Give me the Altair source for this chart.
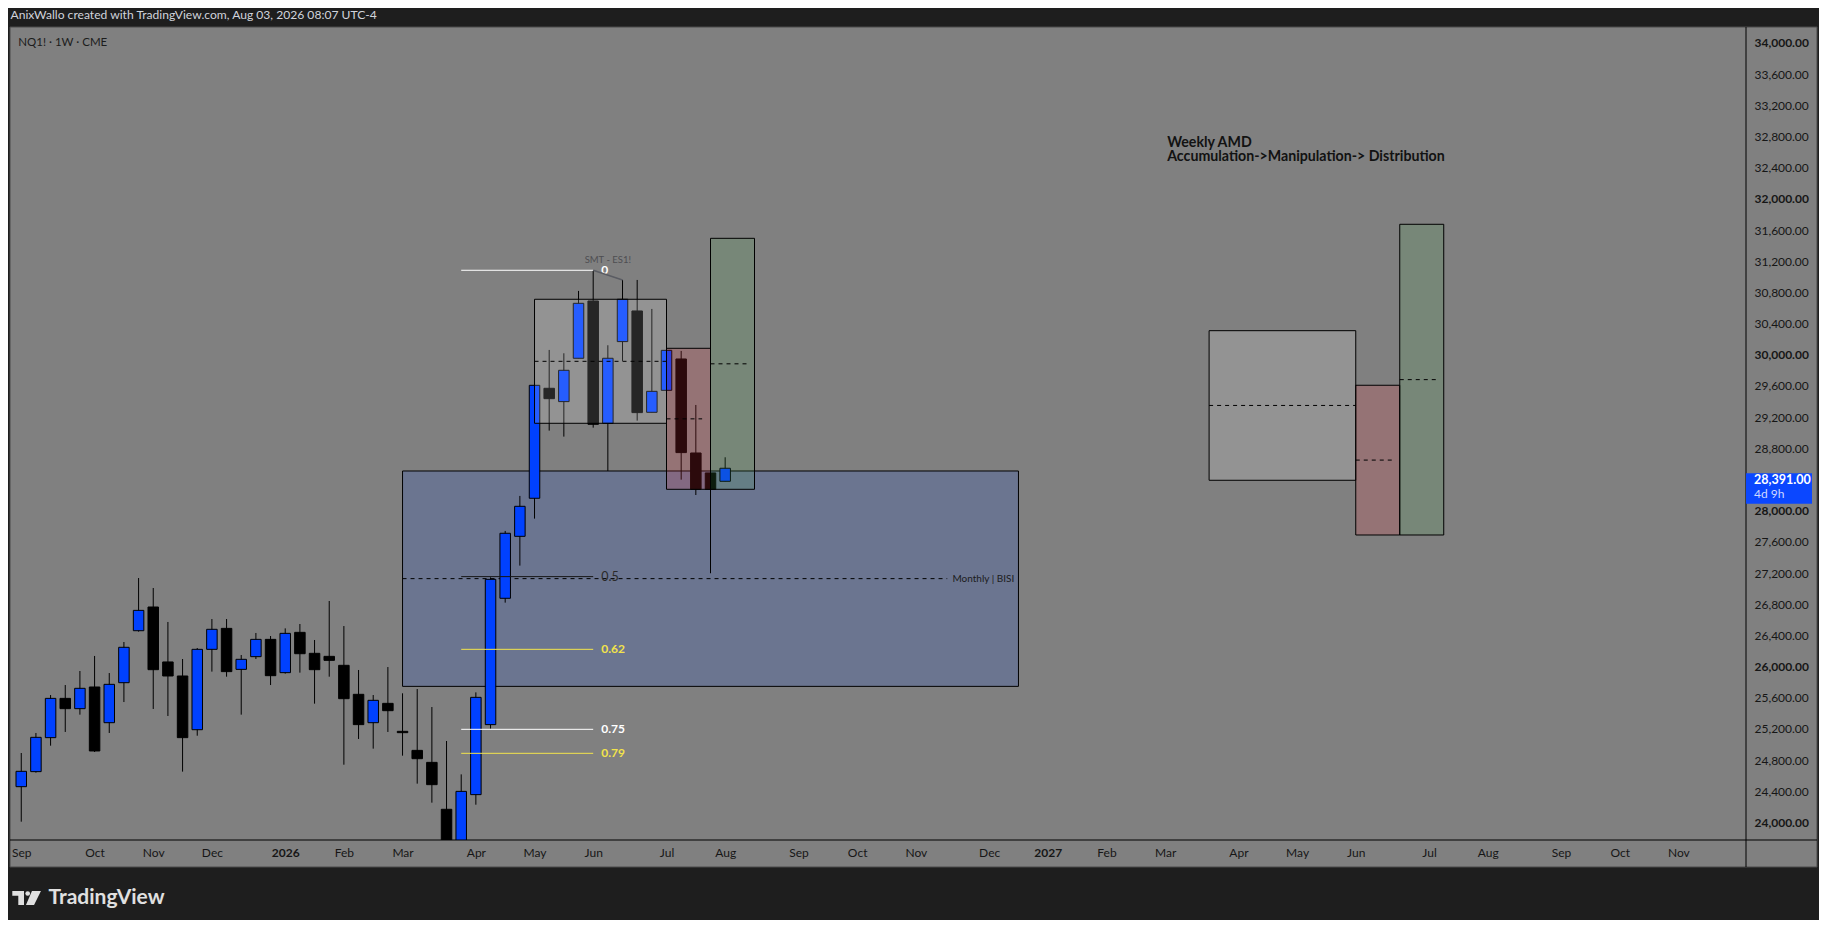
import altair as alt
import pandas as pd

# ---------------- data ----------------
ORIGIN = "2025-09-01"  # first weekly bar on the chart

candle_dates = [d.strftime("%Y-%m-%d") for d in pd.date_range(ORIGIN, periods=49, freq="7D")]
opens = [24459, 24652, 25088, 25592, 25460, 25738, 25280, 25793, 26460, 26764,
         26059, 25879, 25190, 26221, 26490, 25964, 26127, 26349, 25922, 26439,
         26170, 26131, 26016, 25644, 25280, 25528, 25169, 24925, 24771, 24169,
         23500, 24357, 25255, 26876, 27671, 28159, 29570, 29399, 29955, 30690,
         29121, 30169, 30562, 29262, 29544, 29946, 28740, 28484, 28377]
highs = [24891, 25148, 25635, 25763, 25943, 26136, 25917, 26315, 27136, 27008,
         26572, 26097, 26238, 26610, 26610, 26148, 26431, 26392, 26490, 26546,
         26341, 26841, 26520, 25956, 25635, 25994, 25657, 25712, 25481, 25045,
         24617, 25669, 27145, 27740, 28189, 29640, 30062, 30019, 30819, 31084,
         30122, 30960, 30960, 30588, 30083, 30049, 29356, 28540, 28685]
lows = [24010, 24639, 24985, 25161, 25383, 24904, 25148, 25545, 26448, 25456,
        25366, 24652, 25113, 25935, 25870, 25383, 26097, 25763, 25909, 25922,
        25524, 25870, 24741, 25071, 24947, 25161, 24857, 24498, 24254, 23300,
        23224, 24228, 25203, 26820, 27295, 27898, 29027, 28950, 29955, 29065,
        28509, 29921, 29155, 29262, 29500, 28398, 28201, 27197, 28377]
closes = [24656, 25092, 25592, 25460, 25721, 24917, 25772, 26247, 26721, 25960,
          25879, 25088, 26221, 26478, 25935, 26093, 26349, 25883, 26426, 26165,
          25960, 26080, 25588, 25255, 25567, 25434, 25152, 24818, 24485, 23500,
          24399, 25605, 27119, 27710, 28056, 29608, 29437, 29801, 30660, 29108,
          29955, 30712, 29258, 29531, 30057, 28745, 28274, 28274, 28544]

# Monthly BISI zone (drawn under the candles)
bisi_start, bisi_end = "2026-03-02", "2026-12-21"
bisi_top, bisi_bottom = 28509, 25746
bisi_mid, bisi_mid_end = 27128, "2026-11-17"
bisi_label, bisi_label_date = "Monthly | BISI", "2026-12-19"

# AMD boxes (drawn over the candles)
box_start = ["2026-05-04", "2026-07-06", "2026-07-27", "2027-03-22", "2027-05-31", "2027-06-21"]
box_end = ["2026-07-06", "2026-07-27", "2026-08-17", "2027-05-31", "2027-06-21", "2027-07-12"]
box_top = [30712, 30083, 31494, 30309, 29609, 31674]
box_bottom = [29121, 28274, 28274, 28390, 27688, 27688]
box_fill = ["#ffffff", "#f23645", "#4caf50", "#ffffff", "#f23645", "#4caf50"]
box_alpha = [0.15, 0.18, 0.16, 0.15, 0.18, 0.16]
mid_start = ["2026-05-04", "2026-07-06", "2026-07-27", "2027-03-22", "2027-05-31", "2027-06-21"]
mid_end = ["2026-07-06", "2026-07-23", "2026-08-14", "2027-05-31", "2027-06-18", "2027-07-09"]
mid_price = [29916, 29178, 29884, 29350, 28649, 29681]

# Fibonacci levels
fib_start, fib_end = "2026-03-30", "2026-06-01"
fib_labels = ["0", "0.5", "0.62", "0.75", "0.79"]
fib_prices = [31084, 27154, 26221, 25195, 24887]
fib_colors = ["#ffffff", "#161616", "#f2e34b", "#ffffff", "#f2e34b"]

# SMT divergence
smt_dates = ["2026-06-01", "2026-06-15"]
smt_prices = [31084, 30960]
smt_label, smt_label_date, smt_label_price = "SMT - ES1!", "2026-06-08", 31220

# AMD caption
amd_lines = ["Weekly AMD", "Accumulation->Manipulation-> Distribution"]
amd_prices = [32713, 32534]
amd_date = "2027-03-02"

# last price
last_price, last_text, last_countdown = 28391, "28,391.00", "4d 9h"

# x-axis ticks (first weekly bar of each month)
tick_dates = ["2025-09-01", "2025-10-06", "2025-11-03", "2025-12-01", "2026-01-05", "2026-02-02",
              "2026-03-02", "2026-04-06", "2026-05-04", "2026-06-01", "2026-07-06", "2026-08-03",
              "2026-09-07", "2026-10-05", "2026-11-02", "2026-12-07", "2027-01-04", "2027-02-01",
              "2027-03-01", "2027-04-05", "2027-05-03", "2027-05-31", "2027-07-05", "2027-08-02",
              "2027-09-06", "2027-10-04", "2027-11-01"]
tick_labels = ["Sep", "Oct", "Nov", "Dec", "2026", "Feb", "Mar", "Apr", "May", "Jun", "Jul", "Aug",
               "Sep", "Oct", "Nov", "Dec", "2027", "Feb", "Mar", "Apr", "May", "Jun", "Jul", "Aug",
               "Sep", "Oct", "Nov"]
# 28,400 is hidden behind the last-price tag
price_ticks = [24000, 24400, 24800, 25200, 25600, 26000, 26400, 26800, 27200, 27600, 28000,
               28800, 29200, 29600, 30000, 30400, 30800, 31200, 31600, 32000, 32400, 32800,
               33200, 33600, 34000]

header_text = "AnixWallo created with TradingView.com, Aug 03, 2026 08:07 UTC-4"
symbol_text = "NQ1! · 1W · CME"
brand_text = "TradingView"

# ---------------- helpers ----------------
def wk(d):
    return (pd.Timestamp(d) - pd.Timestamp(ORIGIN)).days / 7.0

FONT = "Lato"
W, H = 1736, 813
XS = alt.Scale(domain=[-0.427, 117.27], nice=False, zero=False)
YS = alt.Scale(domain=[23775, 34205], nice=False, zero=False)

tick_weeks = [int(wk(d)) for d in tick_dates]
year_weeks = [w for w, l in zip(tick_weeks, tick_labels) if l.isdigit()]
label_expr = "[" + ",".join("'%s'" % l for l in tick_labels) + "][indexof([" + \
    ",".join(str(w) for w in tick_weeks) + "], datum.value)]"

x_axis = alt.Axis(values=tick_weeks, labelExpr=label_expr, title=None, ticks=False, domain=False,
                  grid=False, labelPadding=7, labelFontSize=12, labelColor="#161616", labelFont=FONT,
                  labelOverlap=False, labelFlush=False, zindex=1,
                  labelFontWeight={"condition": {"test": "indexof([%s], datum.value) >= 0" %
                                                 ",".join(str(w) for w in year_weeks),
                                                 "value": "bold"}, "value": "normal"})
y_axis = alt.Axis(values=price_ticks, format=",.2f", orient="right", title=None, ticks=False,
                  domain=False, grid=False, labelPadding=8, labelFontSize=12, labelColor="#161616",
                  labelFont=FONT, labelOverlap=False, labelFlush=False, zindex=1,
                  labelFontWeight={"condition": {"test": "datum.value % 2000 === 0", "value": "bold"},
                                   "value": "normal"})


def X(f):
    return alt.X(f"{f}:Q", scale=XS, axis=x_axis)


def Y(f):
    return alt.Y(f"{f}:Q", scale=YS, axis=y_axis)


one = pd.DataFrame({"k": [0]})

candles = pd.DataFrame({"w": [wk(d) for d in candle_dates], "open": opens, "high": highs,
                        "low": lows, "close": closes})
candles["color"] = ["#0041ff" if c >= o else "#000000" for o, c in zip(opens, closes)]

bisi = pd.DataFrame({"s": [wk(bisi_start)], "e": [wk(bisi_end)], "t": [bisi_top], "b": [bisi_bottom]})
bisi_mid_df = pd.DataFrame({"s": [wk(bisi_start)], "e": [wk(bisi_mid_end)], "p": [bisi_mid]})
bisi_lab = pd.DataFrame({"w": [wk(bisi_label_date)], "p": [bisi_mid], "t": [bisi_label]})

boxes = pd.DataFrame({"s": [wk(d) for d in box_start], "e": [wk(d) for d in box_end],
                      "t": box_top, "b": box_bottom, "fill": box_fill, "op": box_alpha})
mids = pd.DataFrame({"s": [wk(d) for d in mid_start], "e": [wk(d) for d in mid_end], "p": mid_price})
fibs = pd.DataFrame({"s": [wk(fib_start)] * len(fib_labels), "e": [wk(fib_end)] * len(fib_labels),
                     "p": fib_prices, "c": fib_colors, "lab": fib_labels})
smt = pd.DataFrame({"s": [wk(smt_dates[0])], "e": [wk(smt_dates[1])],
                    "p": [smt_prices[0]], "p2": [smt_prices[1]]})
smt_lab = pd.DataFrame({"w": [wk(smt_label_date)], "p": [smt_label_price], "t": [smt_label]})
amd = pd.DataFrame({"w": [wk(amd_date)] * 2, "p": amd_prices, "t": amd_lines})
last = pd.DataFrame({"p": [last_price], "t": [last_text], "t2": [last_countdown]})

# ---------------- layers ----------------
panel = alt.Chart(one).mark_rect(fill="#808080", stroke="#4a4a4a", strokeWidth=1).encode(
    x=alt.value(0), x2=alt.value(1807), y=alt.value(0), y2=alt.value(840))
vline = alt.Chart(one).mark_rule(color="#000000", strokeWidth=1).encode(
    x=alt.value(W), y=alt.value(0), y2=alt.value(840))
hline = alt.Chart(one).mark_rule(color="#000000", strokeWidth=1).encode(
    x=alt.value(0), x2=alt.value(1807), y=alt.value(H))

bisi_rect = alt.Chart(bisi).mark_rect(fill="#6b7590", stroke="#000000", strokeWidth=1, clip=True).encode(
    x=X("s"), x2=alt.X2("e"), y=Y("t"), y2=alt.Y2("b"))
bisi_line = alt.Chart(bisi_mid_df).mark_rule(color="#000000", strokeDash=[4, 4], strokeWidth=1).encode(
    x=X("s"), x2=alt.X2("e"), y=Y("p"))
bisi_text = alt.Chart(bisi_lab).mark_text(align="right", baseline="middle", fontSize=10, color="#1c1c1c",
                                           font=FONT).encode(x=X("w"), y=Y("p"), text="t:N")

wicks = alt.Chart(candles).mark_rule(color="#000000", strokeWidth=1, clip=True).encode(
    x=X("w"), y=Y("low"), y2=alt.Y2("high"))
bodies = alt.Chart(candles).mark_bar(size=10.5, stroke="#000000", strokeWidth=1, clip=True).encode(
    x=X("w"), y=Y("open"), y2=alt.Y2("close"), fill=alt.Fill("color:N", scale=None))

box_rects = alt.Chart(boxes).mark_rect(stroke="#000000", strokeWidth=1).encode(
    x=X("s"), x2=alt.X2("e"), y=Y("t"), y2=alt.Y2("b"),
    fill=alt.Fill("fill:N", scale=None), fillOpacity=alt.FillOpacity("op:Q", scale=None))
mid_lines = alt.Chart(mids).mark_rule(color="#000000", strokeDash=[4, 4], strokeWidth=1).encode(
    x=X("s"), x2=alt.X2("e"), y=Y("p"))

fib_lines = alt.Chart(fibs).mark_rule(strokeWidth=1).encode(
    x=X("s"), x2=alt.X2("e"), y=Y("p"), color=alt.Color("c:N", scale=None))
fib_text_bold = alt.Chart(fibs).transform_filter("datum.lab != '0.5'").mark_text(
    align="left", baseline="middle", dx=8, fontSize=12, fontWeight="bold", font=FONT).encode(
    x=X("e"), y=Y("p"), text="lab:N", color=alt.Color("c:N", scale=None))
fib_text_norm = alt.Chart(fibs).transform_filter("datum.lab == '0.5'").mark_text(
    align="left", baseline="middle", dx=8, fontSize=12.5, color="#2a2a2a", font=FONT).encode(
    x=X("e"), y=Y("p"), text="lab:N")

smt_line = alt.Chart(smt).mark_rule(color="#5a5c63", strokeWidth=1.5).encode(
    x=X("s"), x2=alt.X2("e"), y=Y("p"), y2=alt.Y2("p2"))
smt_text = alt.Chart(smt_lab).mark_text(align="center", baseline="middle", fontSize=9.5,
                                         color="#4e4e52", font=FONT).encode(
    x=X("w"), y=Y("p"), text="t:N")

amd_text = alt.Chart(amd).mark_text(align="left", baseline="middle", fontSize=14.2, fontWeight="bold",
                                     color="#121212", font=FONT).encode(x=X("w"), y=Y("p"), text="t:N")

last_box = alt.Chart(last).mark_rect(fill="#0b47ff", yOffset=-7, y2Offset=23.5).encode(
    x=alt.value(W), x2=alt.value(1802), y=Y("p"), y2=alt.Y2("p"))
last_t1 = alt.Chart(last).mark_text(align="left", baseline="middle", fontSize=12.5, fontWeight="bold",
                                     color="#ffffff", font=FONT).encode(
    x=alt.value(1744), y=Y("p"), text="t:N")
last_t2 = alt.Chart(last).mark_text(align="left", baseline="middle", fontSize=12, dy=14,
                                     color="#cfd8ff", font=FONT).encode(
    x=alt.value(1744), y=Y("p"), text="t2:N")

header = alt.Chart(pd.DataFrame({"t": [header_text]})).mark_text(
    align="left", baseline="middle", fontSize=12.1, color="#d1d4dc", font=FONT).encode(
    x=alt.value(0.5), y=alt.value(-12), text="t:N")
symbol = alt.Chart(pd.DataFrame({"t": [symbol_text]})).mark_text(
    align="left", baseline="middle", fontSize=11.5, color="#1c1c1c", font=FONT).encode(
    x=alt.value(8.3), y=alt.value(15.7), text="t:N")
brand = alt.Chart(pd.DataFrame({"t": [brand_text]})).mark_text(
    align="left", baseline="middle", fontSize=21, fontWeight="bold", color="#e0e0e0", font=FONT).encode(
    x=alt.value(38.5), y=alt.value(870.5), text="t:N")
logo_path = ("M -0.96 -0.47 L -0.18 -0.47 L -0.18 0.47 L -0.56 0.47 L -0.56 -0.15 L -0.96 -0.15 Z "
             "M 0.35 -0.47 L 0.95 -0.47 L 0.49 0.47 L -0.05 0.47 Z")
logo = alt.Chart(one).mark_point(shape=logo_path, size=900, filled=True, fill="#e0e0e0",
                                 strokeWidth=0, opacity=1).encode(x=alt.value(16.7), y=alt.value(871))
logo_dot = alt.Chart(one).mark_point(shape="circle", size=22, filled=True, fill="#e0e0e0",
                                     strokeWidth=0, opacity=1).encode(x=alt.value(17.7), y=alt.value(866.5))

chart = alt.layer(
    panel, bisi_rect, bisi_line, bisi_text, wicks, bodies, box_rects, mid_lines,
    fib_lines, fib_text_bold, fib_text_norm, smt_line, smt_text, amd_text,
    vline, hline, last_box, last_t1, last_t2, header, symbol, brand, logo, logo_dot
).properties(
    width=W, height=H,
    padding={"left": 2, "top": 19, "right": 73, "bottom": 80},
    autosize=alt.AutoSizeParams(type="none"),
).configure(background="#1e1e1e", font=FONT).configure_view(stroke=None)

chart.save("out.html", embed_options={"renderer": "svg", "actions": False})
